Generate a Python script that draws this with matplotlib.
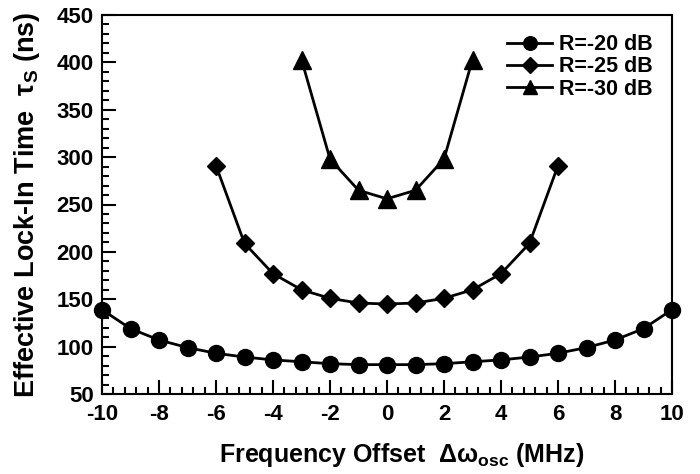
import matplotlib
matplotlib.use('Agg')
import matplotlib.pyplot as plt
from matplotlib.ticker import MultipleLocator, AutoMinorLocator

# data
offset_20 = [-10, -9, -8, -7, -6, -5, -4, -3, -2, -1, 0, 1, 2, 3, 4, 5, 6, 7, 8, 9, 10]
tau_20 = [139, 119, 107, 99, 93, 89, 86, 84, 82, 81, 81, 81, 82, 84, 86, 89, 93, 99, 107, 119, 139]

offset_25 = [-6, -5, -4, -3, -2, -1, 0, 1, 2, 3, 4, 5, 6]
tau_25 = [291, 209, 177, 160, 151, 146, 145, 146, 151, 160, 177, 209, 291]

offset_30 = [-3, -2, -1, 0, 1, 2, 3]
tau_30 = [403, 298, 265, 256, 265, 298, 403]

labels = ['R=-20 dB', 'R=-25 dB', 'R=-30 dB']

plt.rcParams['font.family'] = ['Liberation Sans', 'DejaVu Sans']
plt.rcParams['font.weight'] = 'bold'
plt.rcParams['axes.unicode_minus'] = False
plt.rcParams['mathtext.fontset'] = 'custom'
plt.rcParams['mathtext.rm'] = 'Liberation Sans:bold'
plt.rcParams['mathtext.it'] = 'Liberation Sans:bold'
plt.rcParams['mathtext.bf'] = 'Liberation Sans:bold'

fig = plt.figure(figsize=(7, 4.74), dpi=100)
ax = fig.add_axes([102 / 700, 1 - 394 / 474, 570 / 700, 379 / 474])

style = dict(color='black', linewidth=2, markersize=11.5, clip_on=False, zorder=3)
ax.plot(offset_20, tau_20, marker='o', label=labels[0], **style)
ax.plot(offset_25, tau_25, marker='D', label=labels[1], **{**style, 'markersize': 9.5})
ax.plot(offset_30, tau_30, marker='^', label=labels[2], **{**style, 'markersize': 12.5})

ax.set_xlim(-10, 10)
ax.set_ylim(50, 450)
ax.xaxis.set_major_locator(MultipleLocator(2))
ax.xaxis.set_minor_locator(AutoMinorLocator(5))
ax.yaxis.set_major_locator(MultipleLocator(50))
ax.yaxis.set_minor_locator(AutoMinorLocator(5))

ax.tick_params(which='both', direction='in', top=False, right=False, width=1.5)
ax.tick_params(which='major', length=10, labelsize=16)
ax.tick_params(axis='x', which='major', pad=7)
ax.tick_params(axis='y', which='major', pad=6)
ax.tick_params(which='minor', length=5)
for lbl in ax.get_xticklabels() + ax.get_yticklabels():
    lbl.set_fontweight('bold')
for sp in ax.spines.values():
    sp.set_linewidth(1.5)

ax.set_xlabel('Frequency Offset  Δω$_{osc}$ (MHz)', fontsize=18, fontweight='bold')
ax.set_ylabel('Effective Lock-In Time  τ$_S$ (ns)', fontsize=19.5, fontweight='bold')
ax.xaxis.set_label_coords(0.5 + 15 / 570, -0.125)
ax.yaxis.set_label_coords(-0.105, 0.5)

ax.legend(loc='upper right', frameon=False, handlelength=2.1,
          handletextpad=0.3, labelspacing=0.05, borderaxespad=0.5,
          prop={'weight': 'bold', 'size': 15.5}, markerscale=0.85)

fig.savefig('out.png', dpi=100)
